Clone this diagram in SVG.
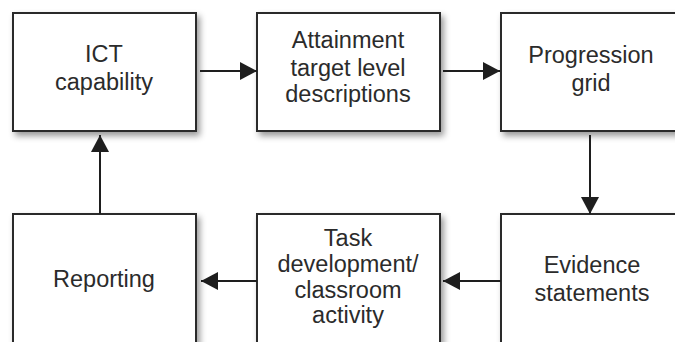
<svg xmlns="http://www.w3.org/2000/svg" width="675" height="342" viewBox="0 0 675 342">
<defs>
<filter id="sh" x="-10%" y="-10%" width="130%" height="130%">
<feDropShadow dx="3" dy="4" stdDeviation="3" flood-color="#000" flood-opacity="0.4"/>
</filter>
<marker id="ah" markerUnits="userSpaceOnUse" markerWidth="18" markerHeight="18" refX="17" refY="9" orient="auto" viewBox="0 0 18 18">
<path d="M0,0 L17,9 L0,18 z" fill="#1e1e1e"/>
</marker>
<style>
.box{fill:#fff;stroke:#2a2a2a;stroke-width:2;filter:url(#sh)}
.lbl{font-family:"Liberation Sans",Arial,sans-serif;font-size:23.5px;fill:#2b2b2b;text-anchor:middle}
.con{stroke:#1e1e1e;stroke-width:2;fill:none;marker-end:url(#ah)}
</style>
</defs>
<rect width="675" height="342" fill="#fff"/>
<g id="ict">
<rect class="box" x="13" y="13" width="183" height="118"/>
<text class="lbl" x="104" y="62">ICT</text>
<text class="lbl" x="104" y="90">capability</text>
</g>
<g id="attainment">
<rect class="box" x="257" y="13" width="183" height="118"/>
<text class="lbl" x="348" y="48">Attainment</text>
<text class="lbl" x="348" y="76">target level</text>
<text class="lbl" x="348" y="102">descriptions</text>
</g>
<g id="progression">
<rect class="box" x="501" y="13" width="184" height="118"/>
<text class="lbl" x="591" y="63">Progression</text>
<text class="lbl" x="591" y="91">grid</text>
</g>
<g id="reporting">
<rect class="box" x="13" y="214" width="183" height="145"/>
<text class="lbl" x="104" y="287">Reporting</text>
</g>
<g id="task">
<rect class="box" x="257" y="214" width="183" height="145"/>
<text class="lbl" x="348" y="246">Task</text>
<text class="lbl" x="348" y="272">development/</text>
<text class="lbl" x="348" y="298">classroom</text>
<text class="lbl" x="348" y="323">activity</text>
</g>
<g id="evidence">
<rect class="box" x="501" y="214" width="184" height="145"/>
<text class="lbl" x="592" y="273">Evidence</text>
<text class="lbl" x="592" y="301">statements</text>
</g>
<g id="connectors">
<line class="con" x1="200" y1="71" x2="257" y2="71"/>
<line class="con" x1="443" y1="71" x2="500" y2="71"/>
<line class="con" x1="590" y1="135" x2="590" y2="214"/>
<line class="con" x1="501" y1="281" x2="443" y2="281"/>
<line class="con" x1="257" y1="281" x2="201" y2="281"/>
<line class="con" x1="100" y1="214" x2="100" y2="135"/>
</g>
</svg>
